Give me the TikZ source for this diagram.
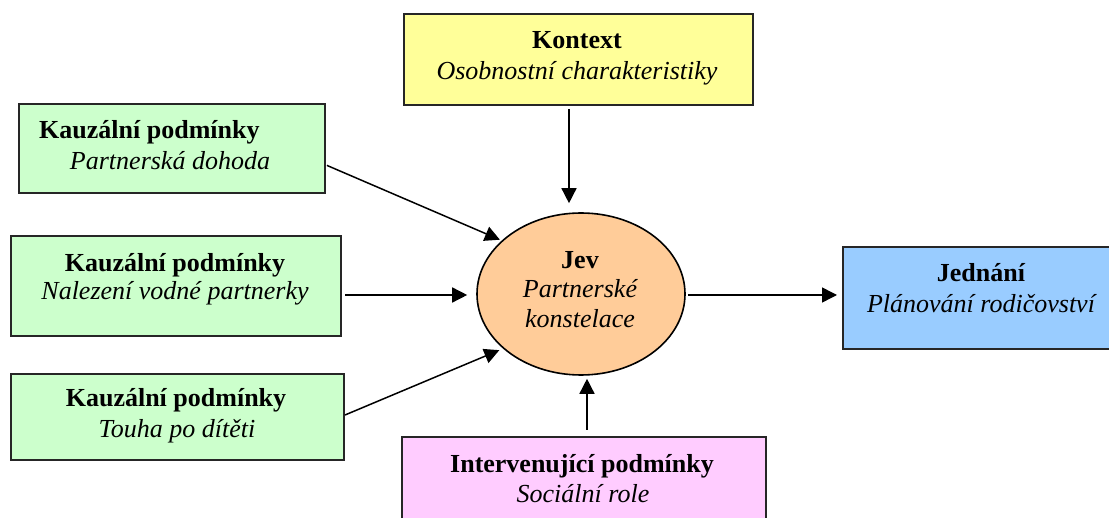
\documentclass[tikz,border=0pt]{standalone}
\usepackage{fontspec}
\setmainfont{Liberation Serif}
\usetikzlibrary{arrows.meta,shapes.geometric}
\definecolor{cyel}{HTML}{FFFF99}
\definecolor{cgrn}{HTML}{CCFFCC}
\definecolor{corg}{HTML}{FFCC99}
\definecolor{cblu}{HTML}{99CCFF}
\definecolor{cpnk}{HTML}{FFCCFF}
\tikzset{
  box/.style={draw=black!85, line width=2pt, inner sep=0pt, anchor=north west, rectangle},
  ttl/.style={font=\fontsize{26}{31}\selectfont\bfseries, anchor=base, inner sep=0pt},
  sub/.style={font=\fontsize{26}{31}\selectfont\itshape, anchor=base, inner sep=0pt},
  arr/.style={line width=1.5pt, -{Triangle[length=15pt,width=15pt]}}
}
\begin{document}
\begin{tikzpicture}[x=1pt,y=-1pt]
\useasboundingbox (0,0) rectangle (1109,518);
% boxes
\node[box, fill=cyel, minimum width=349pt, minimum height=91pt] (ctx) at (403,13) {};
\node[box, fill=cgrn, minimum width=306pt, minimum height=89pt] (k1) at (18,103) {};
\node[box, fill=cgrn, minimum width=330pt, minimum height=100pt] (k2) at (10,235) {};
\node[box, fill=cgrn, minimum width=333pt, minimum height=86pt] (k3) at (10,373) {};
\node[box, fill=cblu, minimum width=290pt, minimum height=102pt] (jed) at (842,246) {};
\node[box, fill=cpnk, minimum width=364pt, minimum height=110pt] (intv) at (401,436) {};
\node[ellipse, draw=black, line width=1.6pt, fill=corg, minimum width=208pt, minimum height=162pt, inner sep=0pt] (jev) at (581,294) {};
% texts
\node[ttl] (ctxa) at (577,49) {Kontext};
\node[sub] (ctxb) at (577,80) {Osobnostní charakteristiky};
\node[ttl, anchor=base west] (k1a) at (39,139) {Kauzální podmínky};
\node[sub] (k1b) at (170,170) {Partnerská dohoda};
\node[ttl] (k2a) at (175,272) {Kauzální podmínky};
\node[sub] (k2b) at (175,300) {Nalezení vodné partnerky};
\node[ttl] (k3a) at (176,407) {Kauzální podmínky};
\node[sub] (k3b) at (177,438) {Touha po dítěti};
\node[ttl] (jeva) at (580,269) {Jev};
\node[sub] (jevb) at (580,298) {Partnerské};
\node[sub] (jevc) at (580,328) {konstelace};
\node[ttl] (jeda) at (981,282) {Jednání};
\node[sub] (jedb) at (981,313) {Plánování rodičovství};
\node[ttl] (intva) at (582,472) {Intervenující podmínky};
\node[sub] (intvb) at (583,502) {Sociální role};
% connectors
\draw[arr, shorten <=3pt, shorten >=9pt] (ctx.south -| 569,0) -- (jev.north -| 569,0);
\draw[arr, shorten <=1pt, shorten >=2pt] (k1.east |- 0,165) -- (jev.146);
\draw[arr, shorten <=3pt, shorten >=9pt] (k2.east |- 0,295) -- (jev.west |- 0,295);
\draw[arr, shorten <=0pt, shorten >=4pt] (k3.east |- 0,415) -- (jev.215);
\draw[arr, shorten <=6pt, shorten >=3pt] (intv.north -| 587,0) -- (jev.south -| 587,0);
\draw[arr, shorten <=2pt, shorten >=5pt] (jev.east |- 0,295) -- (jed.west |- 0,295);
\end{tikzpicture}
\end{document}
